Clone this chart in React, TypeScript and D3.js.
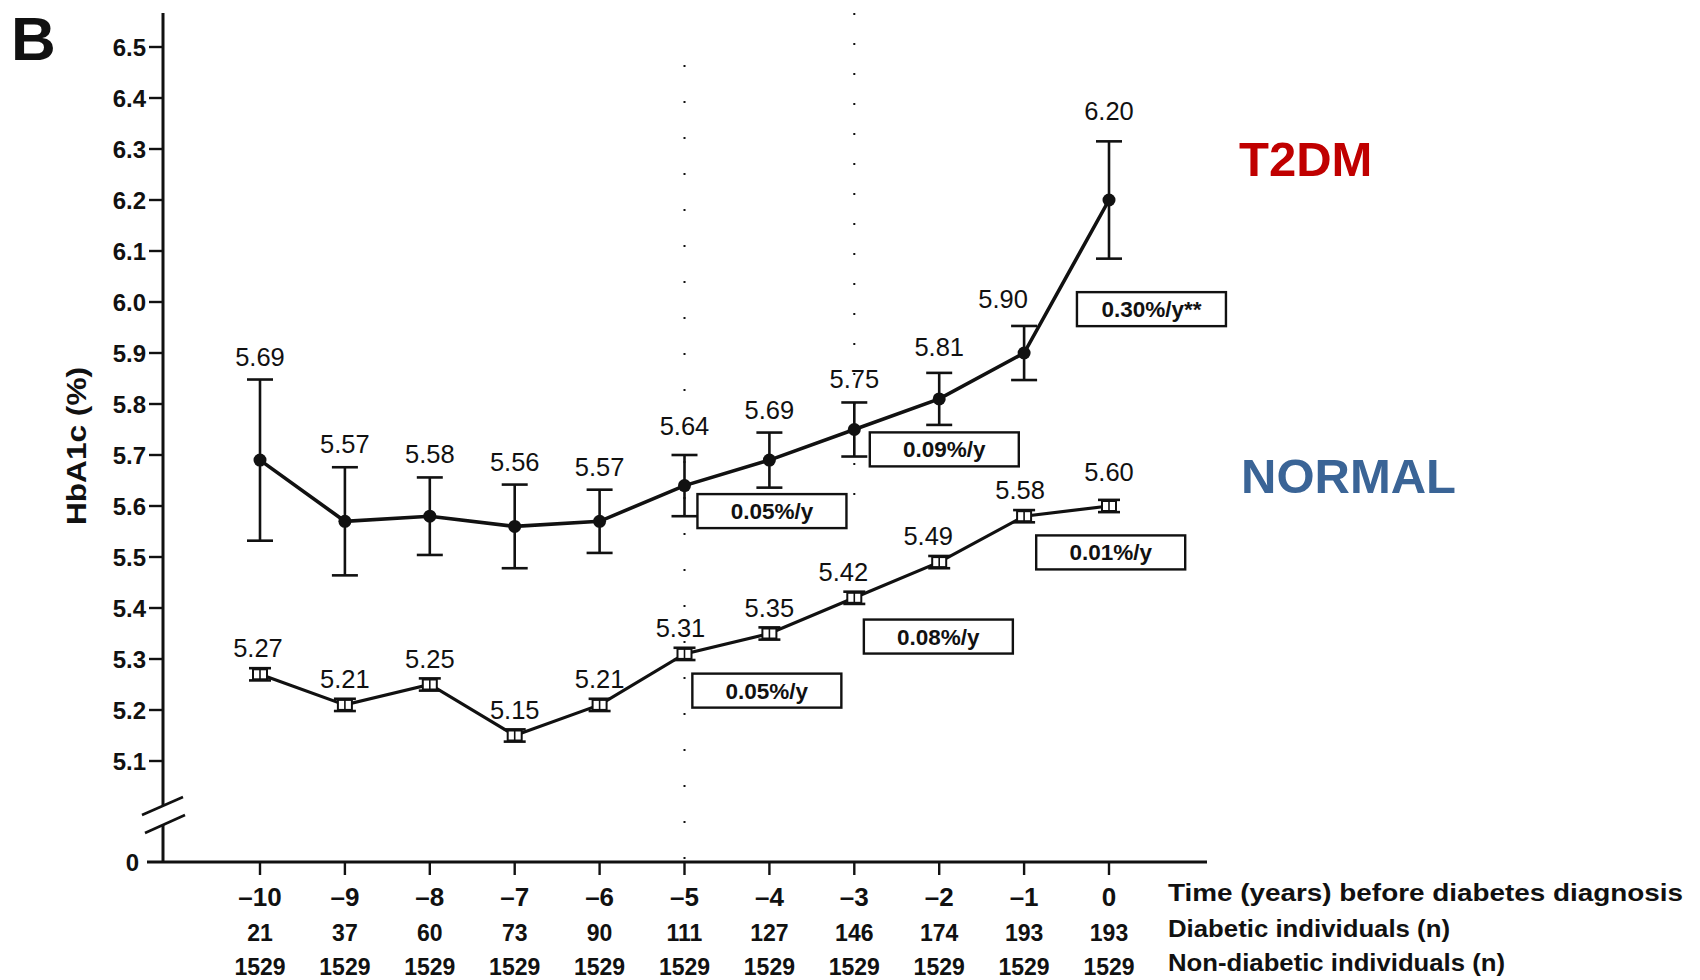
import * as d3 from 'd3';

const years = [-10, -9, -8, -7, -6, -5, -4, -3, -2, -1, 0];
const diabeticN = [21, 37, 60, 73, 90, 111, 127, 146, 174, 193, 193];
const nonDiabeticN = [1529, 1529, 1529, 1529, 1529, 1529, 1529, 1529, 1529, 1529, 1529];

const t2dmMean = [5.69, 5.57, 5.58, 5.56, 5.57, 5.64, 5.69, 5.75, 5.81, 5.9, 6.2];
const t2dmErr = [0.158, 0.106, 0.076, 0.082, 0.062, 0.06, 0.054, 0.053, 0.051, 0.053, 0.115];
const normalMean = [5.27, 5.21, 5.25, 5.15, 5.21, 5.31, 5.35, 5.42, 5.49, 5.58, 5.6];
const normalErr = [0.012, 0.012, 0.012, 0.012, 0.012, 0.012, 0.012, 0.012, 0.012, 0.012, 0.012];

const yTicks = [5.1, 5.2, 5.3, 5.4, 5.5, 5.6, 5.7, 5.8, 5.9, 6.0, 6.1, 6.2, 6.3, 6.4, 6.5];

// slope annotations: [label, year at box centre, value at box centre]
const t2dmSlopes = [
  ['0.05%/y', -3.97, 5.59],
  ['0.09%/y', -1.94, 5.711],
  ['0.30%/y**', 0.5, 5.986],
];
const normalSlopes = [
  ['0.05%/y', -4.03, 5.238],
  ['0.08%/y', -2.01, 5.344],
  ['0.01%/y', 0.02, 5.509],
];

// little nudges so value labels sit where the original put them
const t2dmLabelDx = [0, 0, 0, 0, 0, 0, 0, 0, 0, -21, 0];
const t2dmLabelDy = [0, 0, 0, 0, 0, -6, 0, 0, -3, -4, -7];
const normalLabelDx = [-2, 0, 0, 0, 0, -4, 0, -11, -11, -4, 0];
const normalLabelDy = [0, 0, 0, 0, 0, 0, 0, 0, 0, 0, -8];

const font = 'Liberation Sans, Arial, Helvetica, sans-serif';
const ink = '#111';

const W = 1700;
const H = 980;
const axisX = 163;
const axisTop = 13;
const zeroY = 862;
const axisRight = 1207;

const x = d3.scaleLinear().domain([-10, 0]).range([260, 1109]);
const y = d3.scaleLinear().domain([5.1, 6.5]).range([761, 47]);

const line = d3
  .line<number>()
  .x((d, i) => x(years[i]))
  .y((d) => y(d));

const fmt = d3.format('.2f');

const ErrorBar = ({ xv, mean, err, cap }) => (
  <g stroke={ink} strokeWidth={2.6}>
    <line x1={x(xv)} x2={x(xv)} y1={y(mean + err)} y2={y(mean - err)} />
    <line x1={x(xv) - cap / 2} x2={x(xv) + cap / 2} y1={y(mean + err)} y2={y(mean + err)} />
    <line x1={x(xv) - cap / 2} x2={x(xv) + cap / 2} y1={y(mean - err)} y2={y(mean - err)} />
  </g>
);

const SlopeBox = ({ label, xv, yv }) => {
  const bw = 149;
  const bh = 34;
  const cx = x(xv);
  const cy = y(yv);
  return (
    <g>
      <rect x={cx - bw / 2} y={cy - bh / 2} width={bw} height={bh} fill="#fff" stroke={ink} strokeWidth={2.4} />
      <text x={cx} y={cy + 8} textAnchor="middle" fontSize={22.5} fontWeight="bold" fontFamily={font} fill={ink}>
        {label}
      </text>
    </g>
  );
};

const App = () => {
  return (
    <div style={{ position: 'absolute', left: 0, top: 0 }}>
      <svg width={W} height={H} style={{ display: 'block', background: '#fff' }}>
        {/* panel letter */}
        <text x={11} y={60} fontSize={62} fontWeight="bold" fontFamily={font} fill={ink}>
          B
        </text>

        {/* dotted reference lines */}
        <line x1={x(-5)} x2={x(-5)} y1={65} y2={zeroY} stroke={ink} strokeWidth={2} strokeDasharray="2 34" />
        <line x1={x(-3)} x2={x(-3)} y1={axisTop} y2={495} stroke={ink} strokeWidth={2} strokeDasharray="2 28" />

        {/* y axis with break */}
        <g stroke={ink} strokeWidth={3}>
          <line x1={axisX} x2={axisX} y1={axisTop} y2={805} />
          <line x1={axisX} x2={axisX} y1={825} y2={zeroY} />
          <line x1={142} x2={183} y1={815} y2={797} strokeWidth={2.6} />
          <line x1={145} x2={185} y1={833} y2={815} strokeWidth={2.6} />
          <line x1={147} x2={axisRight} y1={zeroY} y2={zeroY} />
        </g>
        {yTicks.map((t) => (
          <g key={t}>
            <line x1={axisX - 14} x2={axisX} y1={y(t)} y2={y(t)} stroke={ink} strokeWidth={2.4} />
            <text x={axisX - 17} y={y(t) + 8.5} textAnchor="end" fontSize={24} fontWeight="bold" fontFamily={font} fill={ink}>
              {t.toFixed(1)}
            </text>
          </g>
        ))}
        <text x={139} y={zeroY + 9} textAnchor="end" fontSize={24} fontWeight="bold" fontFamily={font} fill={ink}>
          0
        </text>
        <text
          transform={`translate(86, 446) rotate(-90)`}
          textAnchor="middle"
          fontSize={28}
          fontWeight="bold"
          fontFamily={font}
          fill={ink}
          textLength={158}
          lengthAdjust="spacingAndGlyphs"
        >
          HbA1c (%)
        </text>

        {/* x axis ticks and rows */}
        {years.map((yr, i) => (
          <g key={yr} fontFamily={font} fontWeight="bold" fill={ink} textAnchor="middle">
            <line x1={x(yr)} x2={x(yr)} y1={zeroY} y2={zeroY + 13} stroke={ink} strokeWidth={2.4} />
            <text x={x(yr)} y={906} fontSize={26}>
              {yr === 0 ? '0' : '\u2013' + Math.abs(yr)}
            </text>
            <text x={x(yr)} y={941} fontSize={23}>
              {diabeticN[i]}
            </text>
            <text x={x(yr)} y={975} fontSize={23}>
              {nonDiabeticN[i]}
            </text>
          </g>
        ))}
        <g fontFamily={font} fontWeight="bold" fill={ink}>
          <text x={1168} y={901} fontSize={24} textLength={515} lengthAdjust="spacingAndGlyphs">
            Time (years) before diabetes diagnosis
          </text>
          <text x={1168} y={937} fontSize={23} textLength={282} lengthAdjust="spacingAndGlyphs">
            Diabetic individuals (n)
          </text>
          <text x={1168} y={971} fontSize={23} textLength={337} lengthAdjust="spacingAndGlyphs">
            Non-diabetic individuals (n)
          </text>
        </g>

        {/* normal series */}
        <path d={line(normalMean)} fill="none" stroke={ink} strokeWidth={3.2} />
        {normalMean.map((m, i) => (
          <g key={'n' + i}>
            <ErrorBar xv={years[i]} mean={m} err={normalErr[i]} cap={22} />
            <rect x={x(years[i]) - 7} y={y(m) - 5} width={14} height={10} fill="#fff" stroke={ink} strokeWidth={2} />
            <line x1={x(years[i])} x2={x(years[i])} y1={y(m) - 5} y2={y(m) + 5} stroke={ink} strokeWidth={1.6} />
            <text
              x={x(years[i]) + normalLabelDx[i]}
              y={y(m) - 17 + normalLabelDy[i]}
              textAnchor="middle"
              fontSize={25.5}
              fontFamily={font}
              fill={ink}
            >
              {fmt(m)}
            </text>
          </g>
        ))}

        {/* T2DM series */}
        <path d={line(t2dmMean)} fill="none" stroke={ink} strokeWidth={3.6} />
        {t2dmMean.map((m, i) => (
          <g key={'t' + i}>
            <ErrorBar xv={years[i]} mean={m} err={t2dmErr[i]} cap={26} />
            <circle cx={x(years[i])} cy={y(m)} r={6.5} fill={ink} />
            <text
              x={x(years[i]) + t2dmLabelDx[i]}
              y={y(m + t2dmErr[i]) - 14 + t2dmLabelDy[i]}
              textAnchor="middle"
              fontSize={25.5}
              fontFamily={font}
              fill={ink}
            >
              {fmt(m)}
            </text>
          </g>
        ))}

        {/* slope boxes */}
        {t2dmSlopes.map(([label, xv, yv]) => (
          <SlopeBox key={'ts' + label} label={label} xv={xv} yv={yv} />
        ))}
        {normalSlopes.map(([label, xv, yv]) => (
          <SlopeBox key={'ns' + label + xv} label={label} xv={xv} yv={yv} />
        ))}

        {/* series names */}
        <text x={1239} y={176} fontSize={49} fontWeight="bold" fontFamily={font} fill="#C00000">
          T2DM
        </text>
        <text x={1241} y={493} fontSize={49} fontWeight="bold" fontFamily={font} fill="#3A6496">
          NORMAL
        </text>
      </svg>
    </div>
  );
};

export default App;
